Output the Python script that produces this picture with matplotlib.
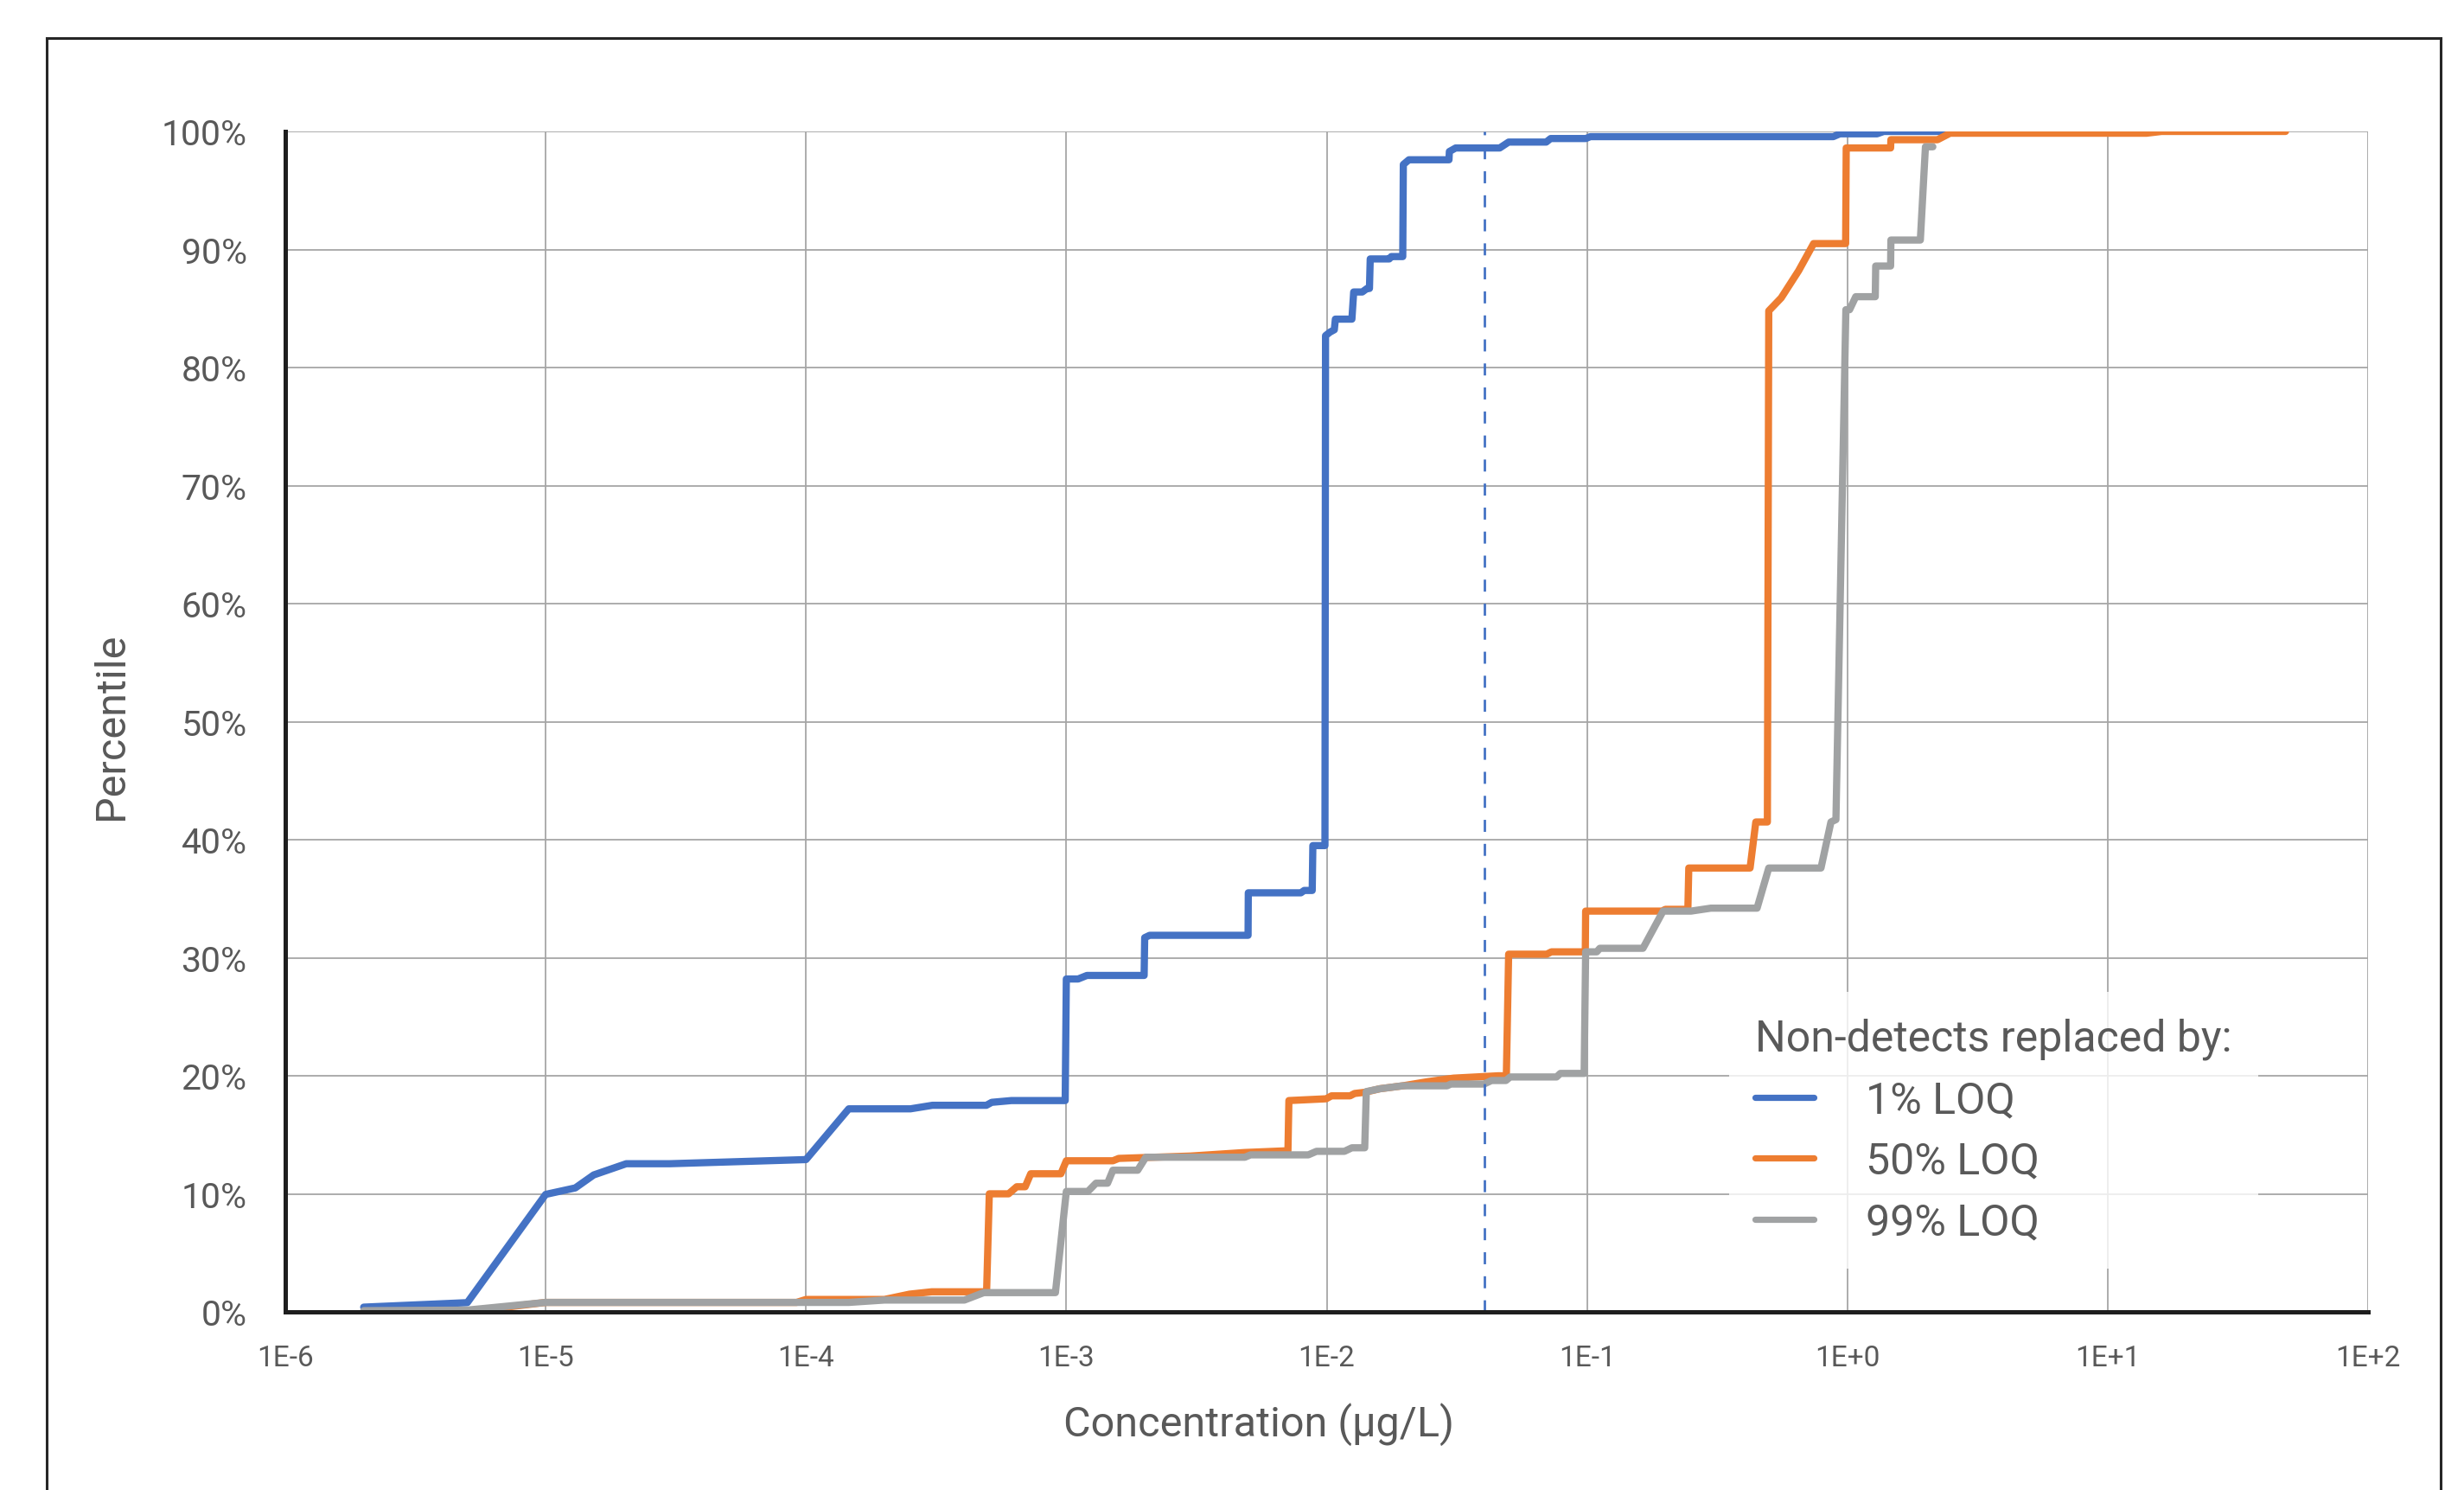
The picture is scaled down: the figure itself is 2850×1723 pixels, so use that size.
#!/usr/bin/env python3
"""Cumulative percentile of concentration, three non-detect substitutions."""

import matplotlib

matplotlib.use("Agg")
import matplotlib.pyplot as plt  # noqa: E402
from matplotlib.lines import Line2D  # noqa: E402
from matplotlib.ticker import FixedLocator, FuncFormatter  # noqa: E402

plt.rcParams["font.family"] = ["Roboto", "DejaVu Sans"]

# --- data --------------------------------------------------------------
loq_1_x = [2.0e-6, 5.0e-6, 1.0e-5, 1.3e-5, 1.53e-5, 2.04e-5, 3.0e-5, 1.0e-4,
           1.46e-4, 2.52e-4, 3.06e-4, 4.93e-4, 5.17e-4, 6.15e-4, 9.9e-4, 1.0e-3,
           1.11e-3, 1.2e-3, 1.99e-3, 2.0e-3, 2.09e-3, 4.99e-3, 5.0e-3, 7.96e-3,
           8.2e-3, 8.8e-3, 8.85e-3, 9.85e-3, 9.9e-3, 1.03e-2, 1.07e-2, 1.08e-2,
           1.25e-2, 1.27e-2, 1.37e-2, 1.43e-2, 1.46e-2, 1.47e-2, 1.74e-2, 1.77e-2,
           1.96e-2, 1.97e-2, 2.07e-2, 2.95e-2, 2.96e-2, 3.13e-2, 4.62e-2, 5.0e-2,
           6.97e-2, 7.25e-2, 9.9e-2, 0.103, 0.883, 0.936, 1.30, 1.38, 2.43]
loq_1_y = [0.4, 0.78, 9.95, 10.5, 11.6, 12.55, 12.55, 12.9,
           17.2, 17.2, 17.5, 17.5, 17.75, 17.9, 17.9, 28.2,
           28.2, 28.5, 28.5, 31.7, 31.9, 31.9, 35.5, 35.5,
           35.7, 35.7, 39.5, 39.5, 82.7, 83.0, 83.2, 84.1,
           84.1, 86.4, 86.4, 86.7, 86.7, 89.2, 89.2, 89.4,
           89.4, 97.2, 97.6, 97.6, 98.3, 98.6, 98.6, 99.1,
           99.1, 99.4, 99.4, 99.56, 99.56, 99.8, 99.8, 100.0, 100.0]

loq_50_x = [2.0e-6, 5.0e-6, 1.0e-5, 9.2e-5, 1.0e-4, 2.0e-4, 2.5e-4, 3.04e-4,
            4.94e-4, 5.06e-4, 6.0e-4, 6.45e-4, 6.95e-4, 7.3e-4, 9.53e-4, 1.0e-3,
            1.51e-3, 1.59e-3, 3.0e-3, 4.85e-3, 7.1e-3, 7.16e-3, 9.95e-3, 1.044e-2,
            1.23e-2, 1.28e-2, 1.4e-2, 1.6e-2, 1.96e-2, 2.44e-2, 3.07e-2, 4.57e-2,
            4.9e-2, 5.0e-2, 7.0e-2, 7.3e-2, 9.85e-2, 9.88e-2, 0.194, 0.2,
            0.244, 0.246, 0.423, 0.445, 0.493, 0.499, 0.557, 0.65,
            0.742, 0.985, 0.99, 1.466, 1.47, 2.22, 2.48, 14.1, 16.1, 48.2]
loq_50_y = [0.0, 0.0, 0.8, 0.8, 1.05, 1.05, 1.5, 1.7,
            1.7, 10.0, 10.0, 10.6, 10.6, 11.7, 11.7, 12.8,
            12.8, 13.0, 13.2, 13.5, 13.65, 17.9, 18.05, 18.3,
            18.3, 18.5, 18.6, 18.9, 19.15, 19.5, 19.8, 20.0,
            20.0, 30.3, 30.3, 30.5, 30.5, 33.95, 33.95, 34.1,
            34.1, 37.6, 37.6, 41.5, 41.5, 84.8, 85.9, 88.2,
            90.5, 90.5, 98.6, 98.6, 99.3, 99.3, 99.85, 99.85, 100.0, 100.0]

loq_99_x = [2.0e-6, 5.0e-6, 1.0e-5, 1.46e-4, 2.0e-4, 4.06e-4, 4.82e-4, 9.08e-4,
            1.0e-3, 1.21e-3, 1.3e-3, 1.44e-3, 1.51e-3, 1.88e-3, 2.02e-3, 4.85e-3,
            5.1e-3, 8.5e-3, 9.14e-3, 1.17e-2, 1.25e-2, 1.4e-2, 1.42e-2, 1.6e-2,
            1.96e-2, 2.9e-2, 3.0e-2, 4.02e-2, 4.3e-2, 4.88e-2, 5.07e-2, 7.64e-2,
            7.9e-2, 9.75e-2, 9.88e-2, 0.109, 0.112, 0.164, 0.196, 0.251,
            0.299, 0.45, 0.499, 0.792, 0.865, 0.904, 0.987, 1.02,
            1.077, 1.28, 1.285, 1.466, 1.47, 1.907, 1.995, 2.13]
loq_99_y = [0.1, 0.15, 0.8, 0.8, 1.0, 1.0, 1.63, 1.63,
            10.2, 10.2, 10.9, 10.9, 12.0, 12.0, 13.1, 13.1,
            13.3, 13.3, 13.6, 13.6, 13.9, 13.9, 18.66, 18.9,
            19.15, 19.15, 19.3, 19.3, 19.6, 19.6, 19.9, 19.9,
            20.2, 20.2, 30.5, 30.5, 30.8, 30.8, 33.95, 33.95,
            34.2, 34.2, 37.6, 37.6, 41.5, 41.7, 84.9, 84.9,
            86.0, 86.0, 88.6, 88.6, 90.8, 90.8, 98.7, 98.7]

series_labels = ["1% LOQ", "50% LOQ", "99% LOQ"]
series_colors = ["#4472C4", "#ED7D31", "#A0A2A3"]
reference_conc = 0.0403  # dashed marker line

x_ticks = [1e-6, 1e-5, 1e-4, 1e-3, 1e-2, 1e-1, 1e0, 1e1, 1e2]
x_tick_labels = ["1E-6", "1E-5", "1E-4", "1E-3", "1E-2", "1E-1", "1E+0", "1E+1", "1E+2"]
y_ticks = list(range(0, 101, 10))

TEXT = "#595959"
W, H = 2850, 1724

fig = plt.figure(figsize=(W / 100, H / 100), dpi=100)
ax = fig.add_axes([330 / W, 1 - 1518 / H, (2739 - 330) / W, (1518 - 153) / H])

series = [(loq_1_x, loq_1_y), (loq_50_x, loq_50_y), (loq_99_x, loq_99_y)]
for (xs, ys), color, label in zip(series, series_colors, series_labels):
    ax.plot(xs, ys, color=color, lw=6.0, label=label,
            solid_joinstyle="round", solid_capstyle="round", zorder=3)

ax.axvline(reference_conc, color="#4472C4", lw=2.0, dashes=(5, 5), zorder=4)

ax.set_xscale("log")
ax.set_xlim(1e-6, 1e2)
ax.set_ylim(0, 100)
ax.xaxis.set_major_locator(FixedLocator(x_ticks))
ax.xaxis.set_minor_locator(FixedLocator([]))
ax.set_xticklabels(x_tick_labels)
ax.set_yticks(y_ticks)
ax.yaxis.set_major_formatter(FuncFormatter(lambda v, _: f"{v:.0f}%"))

ax.grid(True, which="major", color="#A6A6A6", lw=1.3, zorder=0)
ax.set_axisbelow(True)
ax.tick_params(axis="both", length=0, colors=TEXT)
ax.tick_params(axis="y", labelsize=29.5, pad=32)
ax.tick_params(axis="x", labelsize=24, pad=27)
for side in ("top", "right"):
    ax.spines[side].set_visible(False)
for side in ("left", "bottom"):
    ax.spines[side].set_color("#1E1E1E")
    ax.spines[side].set_linewidth(3.6)
    ax.spines[side].set_zorder(5)

ax.set_xlabel("Concentration (µg/L)", fontsize=35, color=TEXT, va="baseline")
ax.xaxis.set_label_coords((1456 - 330) / 2409, (1518 - 1661) / 1365)
ax.set_ylabel("Percentile", fontsize=35, color=TEXT, va="center")
ax.yaxis.set_label_coords((129 - 330) / 2409, (1518 - 840) / 1365)

handles = [Line2D([], [], color=c, lw=5.2, solid_capstyle="round") for c in series_colors]
leg = ax.legend(handles, series_labels, title="Non-detects replaced by:",
                loc="upper left", bbox_to_anchor=(2000 / W, 1 - 1148 / H),
                bbox_transform=fig.transFigure, borderaxespad=0,
                fontsize=36, title_fontsize=36, alignment="left",
                frameon=True, fancybox=False, framealpha=0.8,
                facecolor="white", edgecolor="none",
                handlelength=1.35, handletextpad=1.22, labelspacing=0.45,
                borderpad=0.6)
for t in leg.get_texts():
    t.set_color(TEXT)
leg.get_title().set_color(TEXT)

# outer frame of the figure panel (bottom edge is cropped off)
frame_kw = dict(color="#262626", lw=2.2, transform=fig.transFigure)
fig.add_artist(Line2D([54 / W, 54 / W], [-0.1, 1 - 45 / H], **frame_kw))
fig.add_artist(Line2D([54 / W, 2823 / W], [1 - 45 / H, 1 - 45 / H], **frame_kw))
fig.add_artist(Line2D([2823 / W, 2823 / W], [-0.1, 1 - 45 / H], **frame_kw))

fig.savefig("out.png", dpi=100, facecolor="white")
